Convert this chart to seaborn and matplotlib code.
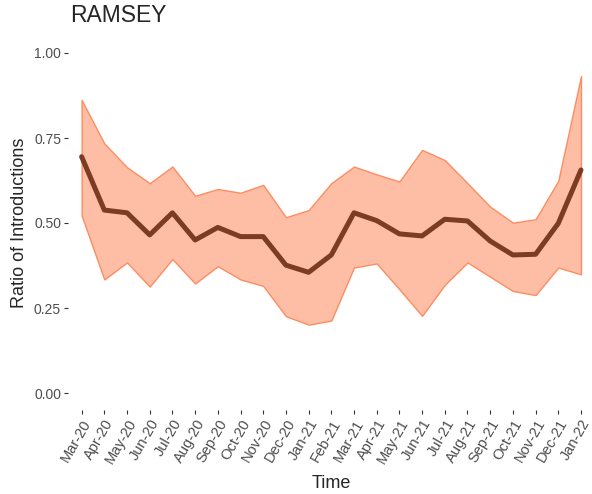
import numpy as np
import pandas as pd
import matplotlib
matplotlib.use("Agg")
import matplotlib.pyplot as plt
import seaborn as sns

# monthly labels and values
months = ["Mar-20", "Apr-20", "May-20", "Jun-20", "Jul-20", "Aug-20", "Sep-20",
          "Oct-20", "Nov-20", "Dec-20", "Jan-21", "Feb-21", "Mar-21", "Apr-21",
          "May-21", "Jun-21", "Jul-21", "Aug-21", "Sep-21", "Oct-21", "Nov-21",
          "Dec-21", "Jan-22"]
mean_ratio = [0.695, 0.538, 0.530, 0.465, 0.530, 0.450, 0.487, 0.460, 0.460,
              0.376, 0.355, 0.406, 0.530, 0.507, 0.468, 0.462, 0.511, 0.506,
              0.447, 0.406, 0.408, 0.499, 0.656]
upper = [0.862, 0.734, 0.664, 0.617, 0.666, 0.580, 0.600, 0.589, 0.612,
         0.517, 0.538, 0.617, 0.666, 0.643, 0.622, 0.715, 0.685, 0.617,
         0.548, 0.501, 0.511, 0.624, 0.932]
lower = [0.522, 0.334, 0.384, 0.313, 0.394, 0.322, 0.373, 0.334, 0.315,
         0.226, 0.201, 0.213, 0.369, 0.381, 0.305, 0.227, 0.318, 0.384,
         0.342, 0.300, 0.288, 0.369, 0.349]
y_ticks = [0.0, 0.25, 0.5, 0.75, 1.0]

df = pd.DataFrame({"idx": np.arange(len(months)), "mean": mean_ratio,
                   "lo": lower, "hi": upper})

sns.set_style("white")
plt.rcParams["font.family"] = ["Liberation Sans", "DejaVu Sans"]

fig = plt.figure(figsize=(5.92, 4.94), dpi=100)
ax = fig.add_axes([68 / 592, 84 / 494, (594.6 - 68) / 592, (410 - 36) / 494])

ax.fill_between(df["idx"], df["lo"], df["hi"], facecolor="#FEBEA5",
                edgecolor="#FC8D62", linewidth=1.0, zorder=1)
sns.lineplot(data=df, x="idx", y="mean", color="#7C3B22", linewidth=3.6,
             ax=ax, zorder=3)

ax.set_xlim(-0.6, len(months) - 0.4)
ax.set_ylim(-0.05, 1.05)
ax.set_xticks(df["idx"])
ax.set_xticklabels(months, rotation=60, ha="right", rotation_mode="anchor",
                   fontsize=10.5, color="#4D4D4D")
ax.set_yticks(y_ticks)
ax.set_yticklabels([f"{v:.2f}" for v in y_ticks], fontsize=10, color="#4D4D4D")
ax.tick_params(axis="both", length=3, width=0.8, color="#333333", pad=2,
               bottom=True, left=True)

sns.despine(ax=ax, left=True, bottom=True)

ax.set_xlabel("Time", fontsize=13, labelpad=6)
ax.set_ylabel("Ratio of Introductions", fontsize=13, labelpad=4)
fig.text(70 / 592, 1 - 16 / 494, "RAMSEY", fontsize=16.5, va="center", ha="left")

fig.savefig("out.png", dpi=100)
